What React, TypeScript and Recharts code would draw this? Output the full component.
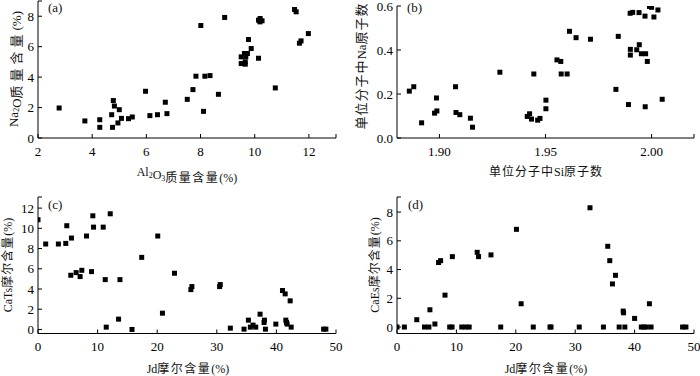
import React from 'react';
import { ScatterChart, Scatter, XAxis, YAxis } from 'recharts';

// Panel (a): Al2O3 vs Na2O (wt%)
const aAl2O3 = [2.78, 3.73, 4.28, 4.28, 4.72, 4.78, 4.82, 4.75, 5.0, 4.95, 5.08, 5.34, 5.48, 5.97, 6.13, 6.41, 6.7, 6.76, 7.51, 7.72, 7.83, 8.01, 8.11, 8.16, 8.35, 8.66, 8.89, 9.5, 9.5, 9.62, 9.65, 9.67, 9.73, 9.65, 9.77, 9.87, 10.14, 10.14, 10.19, 10.2, 10.27, 10.76, 11.47, 11.53, 11.65, 11.71, 11.98];
const aNa2O = [1.97, 1.12, 1.2, 0.7, 1.53, 2.46, 2.1, 0.7, 1.86, 0.99, 1.29, 1.27, 1.38, 3.07, 1.47, 1.53, 2.35, 1.6, 2.54, 3.18, 4.06, 7.39, 1.75, 4.06, 4.1, 2.87, 7.92, 4.89, 5.33, 5.55, 4.85, 5.33, 5.55, 5.0, 6.47, 5.88, 5.24, 7.74, 7.63, 7.85, 7.7, 3.29, 8.44, 8.29, 6.23, 6.38, 6.86];

// Panel (b): Si vs Na atoms per formula unit
const bSi = [1.8858, 1.8879, 1.8916, 1.8977, 1.8988, 1.8986, 1.9076, 1.9078, 1.9096, 1.9146, 1.9156, 1.9285, 1.9414, 1.9425, 1.9434, 1.9445, 1.9463, 1.9474, 1.9502, 1.9502, 1.9554, 1.9572, 1.9574, 1.9602, 1.9613, 1.9644, 1.9712, 1.9832, 1.9843, 1.9891, 1.9899, 1.9911, 1.99, 1.99, 1.9941, 1.993, 1.9942, 1.9952, 1.9969, 1.9972, 1.997, 1.998, 1.999, 2.0, 2.0011, 2.003, 2.005];
const bNa = [0.213, 0.233, 0.069, 0.113, 0.123, 0.182, 0.233, 0.116, 0.106, 0.09, 0.049, 0.299, 0.098, 0.11, 0.086, 0.291, 0.081, 0.089, 0.172, 0.133, 0.355, 0.348, 0.291, 0.291, 0.485, 0.456, 0.449, 0.221, 0.462, 0.152, 0.567, 0.571, 0.403, 0.377, 0.57, 0.401, 0.424, 0.383, 0.554, 0.383, 0.142, 0.348, 0.598, 0.594, 0.55, 0.582, 0.176];

// Panel (c): Jd vs CaTs (mol%)
const cJd = [0, 1.29, 3.42, 4.66, 4.83, 5.61, 5.5, 6.4, 7.07, 7.35, 8.14, 8.98, 9.2, 9.32, 10.94, 11.28, 11.45, 12.12, 13.52, 13.75, 15.77, 17.4, 20.09, 20.88, 22.9, 25.65, 25.82, 30.47, 30.58, 32.27, 34.57, 35.3, 35.63, 36.08, 36.53, 37.26, 37.93, 37.99, 38.16, 39.9, 41.02, 41.47, 41.58, 41.69, 41.8, 42.31, 42.48, 47.92, 48.3];
const cCaTs = [10.85, 8.45, 8.45, 8.51, 10.26, 9.04, 5.36, 5.62, 5.23, 5.85, 9.24, 5.72, 11.24, 10.12, 10.12, 4.93, 0.23, 11.44, 1.02, 4.93, 0.0, 7.13, 9.24, 1.61, 5.56, 3.94, 4.24, 4.24, 4.44, 0.13, 0.03, 0.92, 0.23, 0.43, 0.23, 1.51, 0.69, 0.92, 0.03, 0.53, 3.85, 3.52, 0.92, 0.69, 0.53, 2.83, 0.23, 0.03, 0.03];

// Panel (d): Jd vs CaEs (mol%)
const dJd = [0, 1.24, 3.33, 4.63, 5.37, 5.54, 6.38, 7.0, 7.34, 8.08, 8.87, 9.27, 9.32, 10.9, 11.58, 12.15, 13.5, 13.73, 15.82, 17.46, 20.11, 20.9, 22.94, 25.76, 25.93, 30.68, 32.49, 34.75, 35.48, 35.82, 36.27, 36.78, 37.4, 38.08, 38.14, 38.36, 40.0, 41.13, 41.53, 41.98, 42.49, 42.77, 48.08, 48.64];
const dCaEs = [0, 0, 0.51, 0, 0, 1.2, 0.21, 4.49, 4.62, 2.22, 0, 0, 4.9, 0, 0, 0, 5.2, 4.9, 5.02, 0, 6.8, 1.62, 0, 0, 0, 0, 8.3, 0, 5.62, 4.62, 3.0, 3.6, 0, 1.11, 0.99, 0, 0.6, 0, 0, 0, 1.62, 0, 0, 0];

// Tick values (the last, unlabeled, marks the axis end)
const aXTicks = [2, 4, 6, 8, 10, 12, 13];
const aYTicks = [0, 2, 4, 6, 8, 9];
const bXTicks = [1.9, 1.95, 2.0, 2.02];
const bYTicks = [0, 0.2, 0.4, 0.6];
const cdXTicks = [0, 10, 20, 30, 40, 50];
const cYTicks = [0, 2, 4, 6, 8, 10, 12, 13.1];
const dYTicks = [0, 2, 4, 6, 8, 9.05];

const FONT = '"Liberation Serif", "Times New Roman", "Noto Sans CJK SC", serif';

const zip = (xs: number[], ys: number[]) => xs.map((x, i) => ({ x, y: ys[i] }));

const Square = (props: any) => {
  const { cx, cy } = props;
  if (cx == null || cy == null) return null;
  return <rect x={cx - 2.5} y={cy - 2.5} width={5} height={5} fill="#000" />;
};

const makeXTick = (labeled: number[], fmt: (v: number) => string) => (props: any) => {
  const { x, y, payload } = props;
  const v = payload.value;
  const show = labeled.includes(v);
  return (
    <g>
      <line x1={x} x2={x} y1={y} y2={y - 4} stroke="#000" strokeWidth={1} />
      {show && (
        <text x={x} y={y + 13} textAnchor="middle" dominantBaseline="central" fontFamily={FONT} fontSize={13} fill="#000">
          {fmt(v)}
        </text>
      )}
    </g>
  );
};

const makeYTick = (labeled: number[], fmt: (v: number) => string) => (props: any) => {
  const { x, y, payload } = props;
  const v = payload.value;
  const show = labeled.includes(v);
  return (
    <g>
      <line x1={x} x2={x + 4} y1={y} y2={y} stroke="#000" strokeWidth={1} />
      {show && (
        <text x={x - 4} y={y} textAnchor="end" dominantBaseline="central" fontFamily={FONT} fontSize={13} fill="#000">
          {fmt(v)}
        </text>
      )}
    </g>
  );
};

type PanelProps = {
  left: number; top: number;
  plotLeft: number; plotRight: number; plotTop: number; plotBottom: number;
  xDomain: [number, number]; yDomain: [number, number];
  xTicks: number[]; yTicks: number[];
  xFmt: (v: number) => string; yFmt: (v: number) => string;
  data: { x: number; y: number }[];
};

const Panel = (p: PanelProps) => {
  const W = 350, H = 188;
  return (
    <div style={{ position: 'absolute', left: p.left, top: p.top, width: W, height: H }}>
      <ScatterChart
        width={W}
        height={H}
        margin={{ top: p.plotTop, right: W - p.plotRight, bottom: 0, left: 0 }}
      >
        <XAxis
          type="number"
          dataKey="x"
          domain={p.xDomain}
          ticks={p.xTicks}
          interval={0}
          allowDataOverflow
          height={H - p.plotBottom}
          tickSize={0}
          tickMargin={0}
          tickLine={false}
          axisLine={{ stroke: '#000', strokeWidth: 1 }}
          tick={makeXTick(p.xTicks.slice(0, -1).concat(p.xTicks.length === 6 ? [p.xTicks[5]] : []), p.xFmt)}
        />
        <YAxis
          type="number"
          dataKey="y"
          domain={p.yDomain}
          ticks={p.yTicks}
          interval={0}
          allowDataOverflow
          width={p.plotLeft}
          tickSize={0}
          tickMargin={0}
          tickLine={false}
          axisLine={{ stroke: '#000', strokeWidth: 1 }}
          tick={makeYTick(p.yTicks.slice(0, -1).concat(p.yTicks.length === 4 ? [p.yTicks[3]] : []), p.yFmt)}
        />
        <Scatter data={p.data} shape={Square} isAnimationActive={false} />
      </ScatterChart>
    </div>
  );
};

const sub = (s: string) => (
  <>
    <tspan fontSize={8} dy={3}>{s}</tspan>
    <tspan dy={-3}></tspan>
  </>
);

export default function App() {
  const t = { fontFamily: FONT, fill: '#111' } as const;
  return (
    <div style={{ position: 'absolute', left: 0, top: 0, width: 700, height: 376, background: '#fff', overflow: 'hidden' }}>
      <Panel left={0} top={0} plotLeft={38} plotRight={336} plotTop={1} plotBottom={138}
        xDomain={[2, 13]} yDomain={[0, 9]} xTicks={aXTicks} yTicks={aYTicks}
        xFmt={(v) => String(v)} yFmt={(v) => String(v)} data={zip(aAl2O3, aNa2O)} />
      <Panel left={350} top={0} plotLeft={47} plotRight={344} plotTop={6} plotBottom={138}
        xDomain={[1.88, 2.02]} yDomain={[0, 0.6]} xTicks={bXTicks} yTicks={bYTicks}
        xFmt={(v) => v.toFixed(2)} yFmt={(v) => v.toFixed(1)} data={zip(bSi, bNa)} />
      <Panel left={0} top={188} plotLeft={38} plotRight={336} plotTop={9} plotBottom={145.5}
        xDomain={[0, 50]} yDomain={[-0.4, 13.1]} xTicks={cdXTicks} yTicks={cYTicks}
        xFmt={(v) => String(v)} yFmt={(v) => String(v)} data={zip(cJd, cCaTs)} />
      <Panel left={350} top={188} plotLeft={47} plotRight={344} plotTop={9} plotBottom={145.5}
        xDomain={[0, 50]} yDomain={[-0.45, 9.05]} xTicks={cdXTicks} yTicks={dYTicks}
        xFmt={(v) => String(v)} yFmt={(v) => String(v)} data={zip(dJd, dCaEs)} />

      <svg width={700} height={376} style={{ position: 'absolute', left: 0, top: 0, pointerEvents: 'none' }}>
        {/* panel tags */}
        <text x={48} y={12} fontSize={13} {...t}>(a)</text>
        <text x={407} y={12} fontSize={13} {...t}>(b)</text>
        <text x={48} y={209} fontSize={13} {...t}>(c)</text>
        <text x={408} y={209} fontSize={13} {...t}>(d)</text>

        {/* x titles */}
        <text x={187} y={172} fontSize={12} textAnchor="middle" dominantBaseline="central" {...t}>
          Al{sub('2')}O{sub('3')}<tspan letterSpacing={1.5}>质量含量</tspan>(%)
        </text>
        <text x={546} y={172} fontSize={12} textAnchor="middle" dominantBaseline="central" {...t}>
          <tspan letterSpacing={1}>单位分子中</tspan>Si<tspan letterSpacing={1}>原子数</tspan>
        </text>
        <text x={188} y={369} fontSize={12} textAnchor="middle" dominantBaseline="central" {...t}>
          Jd<tspan letterSpacing={1.5}>摩尔含量</tspan>(%)
        </text>
        <text x={546} y={369} fontSize={12} textAnchor="middle" dominantBaseline="central" {...t}>
          Jd<tspan letterSpacing={1.5}>摩尔含量</tspan>(%)
        </text>

        {/* y titles */}
        <text transform="translate(13,69) rotate(-90)" fontSize={13} textAnchor="middle" dominantBaseline="central" {...t}>
          Na{sub('2')}O<tspan letterSpacing={4}>质量含量</tspan>(%)
        </text>
        <text transform="translate(361,66) rotate(-90)" fontSize={13} textAnchor="middle" dominantBaseline="central" {...t}>
          <tspan letterSpacing={1}>单位分子中</tspan>Na<tspan letterSpacing={1}>原子数</tspan>
        </text>
        <text transform="translate(8,265) rotate(-90)" fontSize={12} textAnchor="middle" dominantBaseline="central" {...t}>
          CaTs<tspan letterSpacing={1}>摩尔含量</tspan>(%)
        </text>
        <text transform="translate(375,265) rotate(-90)" fontSize={12} textAnchor="middle" dominantBaseline="central" {...t}>
          CaEs<tspan letterSpacing={1}>摩尔含量</tspan>(%)
        </text>
      </svg>
    </div>
  );
}
